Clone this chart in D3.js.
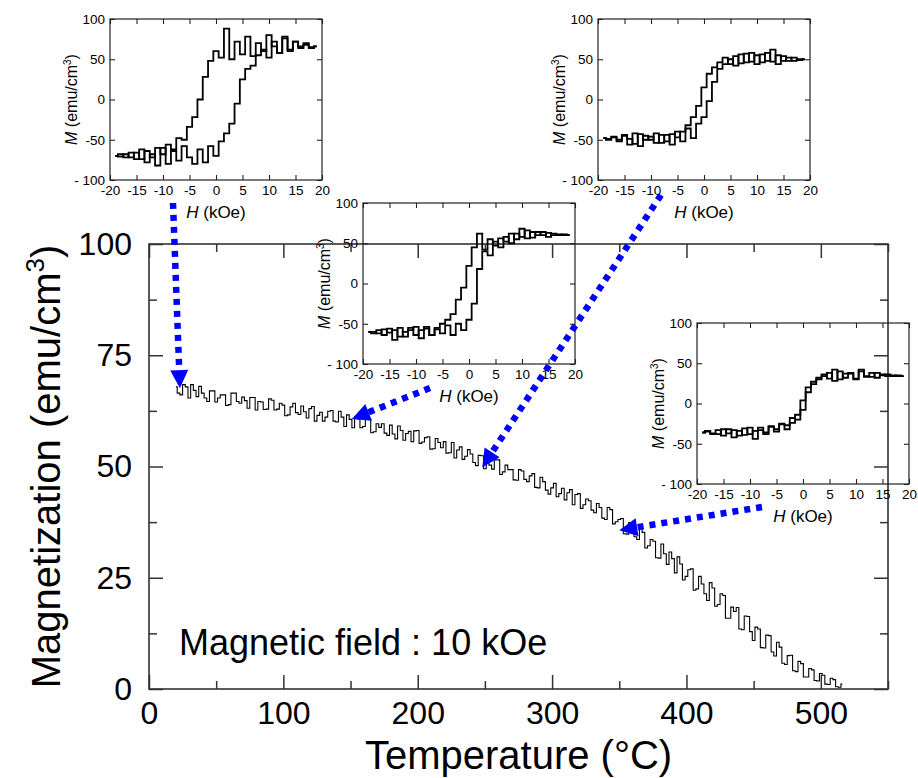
<!DOCTYPE html>
<html>
<head>
<meta charset="utf-8">
<script src="https://cdn.jsdelivr.net/npm/d3@7"></script>
<style>
body { margin: 0; background: #fff; }
text { font-family: "Liberation Sans", Arial, sans-serif; fill: #000; }
</style>
</head>
<body>
<script>
// ---- main curve: M(T) measured in 10 kOe ----
var temperature = [
  20,22,24,26,28,30,32,34,36,38,40,42,44,46,48,50,52,54,56,58,
  60,62,64,66,68,70,72,74,76,78,80,82,84,86,88,90,92,94,96,98,
  100,102,104,106,108,110,112,114,116,118,120,122,124,126,128,130,132,134,136,138,
  140,142,144,146,148,150,152,154,156,158,160,162,164,166,168,170,172,174,176,178,
  180,182,184,186,188,190,192,194,196,198,200,202,204,206,208,210,212,214,216,218,
  220,222,224,226,228,230,232,234,236,238,240,242,244,246,248,250,252,254,256,258,
  260,262,264,266,268,270,272,274,276,278,280,282,284,286,288,290,292,294,296,298,
  300,302,304,306,308,310,312,314,316,318,320,322,324,326,328,330,332,334,336,338,
  340,342,344,346,348,350,352,354,356,358,360,362,364,366,368,370,372,374,376,378,
  380,382,384,386,388,390,392,394,396,398,400,402,404,406,408,410,412,414,416,418,
  420,422,424,426,428,430,432,434,436,438,440,442,444,446,448,450,452,454,456,458,
  460,462,464,466,468,470,472,474,476,478,480,482,484,486,488,490,492,494,496,498,
  500,502,504,506,508,510,512,514,516
];
var magnetization = [
  67.9,66.5,66.1,68.4,67.9,65.4,68.4,67.1,65.7,68.0,
  66.5,65.4,64.6,67.0,67.0,64.5,65.4,66.1,66.1,63.7,
  63.9,66.5,66.5,64.6,64.2,65.6,64.8,63.1,65.5,65.5,
  62.7,64.6,64.5,62.8,62.9,65.2,64.9,62.7,62.9,64.2,
  63.8,61.4,61.6,63.4,64.2,62.1,61.7,63.6,62.3,60.9,
  63.0,63.5,60.2,61.5,62.2,60.2,61.1,62.4,62.6,60.2,
  60.0,62.4,61.1,59.0,61.6,60.6,58.7,61.2,60.7,58.7,
  59.0,60.8,60.7,57.6,57.8,59.6,58.8,59.6,57.5,57.0,
  59.3,57.3,56.2,59.1,58.1,55.9,57.4,57.9,55.6,58.0,
  58.1,55.2,55.5,56.5,56.7,53.9,54.0,56.3,55.4,54.2,
  55.6,53.0,53.1,55.4,51.9,53.7,54.4,51.6,52.3,53.8,
  52.8,50.9,50.2,52.5,52.4,49.5,51.2,50.3,49.4,51.5,
  51.5,48.2,48.8,50.3,49.3,49.3,47.0,46.9,49.3,49.0,
  47.1,46.6,47.9,48.4,45.3,45.2,47.6,46.6,44.7,43.8,
  45.2,46.2,43.2,43.9,45.1,42.5,44.1,44.8,41.4,43.7,
  43.9,40.6,41.4,42.7,42.3,40.2,39.6,41.7,40.8,38.4,
  38.1,40.8,40.3,37.1,37.6,38.1,38.3,34.9,34.8,37.4,
  36.3,34.2,33.6,36.1,35.2,31.7,32.2,33.6,33.2,29.5,
  29.4,32.6,30.4,28.0,30.8,29.3,26.1,29.7,28.1,24.5,
  25.3,26.8,27.0,22.2,22.5,25.3,23.6,21.4,19.9,23.9,
  22.7,18.6,19.0,21.4,21.0,15.9,15.9,18.4,17.4,18.3,
  13.5,13.3,16.4,16.3,12.9,10.9,13.9,13.5,9.3,9.2,
  12.1,12.0,8.3,7.4,10.5,9.4,5.8,5.5,7.5,7.6,
  4.1,3.9,6.2,5.7,2.7,2.7,4.6,4.3,1.9,1.8,
  3.5,3.1,1.1,1.0,2.4,2.1,0.5,0.4,1.1
];

var tempMajor = [0, 100, 200, 300, 400, 500];
var tempMinor = [50, 150, 250, 350, 450, 550];
var magMajor = [0, 25, 50, 75, 100];
var magMinor = [12.5, 37.5, 62.5, 87.5];

// ---- hysteresis loops M(H), both branches listed at the same H values ----
var field = [-19,-18,-17,-16,-15,-14,-13,-12,-11,-10,-9,-8,-7,-6,-5,-4,-3,-2,-1,
             0,1,2,3,4,5,6,7,8,9,10,11,12,13,14,15,16,17,18,19];
var fieldTicks = [-20,-15,-10,-5,0,5,10,15,20];
var loopMTicks = [-100,-50,0,50,100];

// 20 C
var loop20Up = [-70,-68,-72,-66,-74,-62,-78,-68,-82,-60,-80,-64,-76,-58,-72,-80,-62,-78,-58,
                -70,-52,-42,-30,-5,25,38,42,55,62,52,72,58,78,60,72,64,68,65,66];
var loop20Down = [-70,-71,-68,-72,-66,-74,-64,-72,-60,-68,-56,-62,-48,-50,-34,-22,0,28,48,
                  60,52,88,50,72,56,78,54,70,60,80,66,58,76,62,72,66,70,64,66];
// 150 C
var loop150Up = [-60,-62,-58,-64,-56,-70,-55,-66,-58,-54,-68,-56,-64,-57,-62,-52,-64,-50,-58,
                 -45,-25,18,40,35,52,45,58,50,62,58,66,57,64,60,63,60,61,60,60];
var loop150Down = [-60,-60,-62,-57,-61,-58,-66,-60,-55,-64,-58,-54,-64,-55,-50,-45,-38,-20,-5,
                   22,45,62,42,55,47,56,52,62,55,68,56,64,60,64,58,62,60,61,60];
// 250 C
var loop250Up = [-48,-50,-46,-52,-44,-56,-42,-58,-45,-50,-42,-54,-44,-56,-40,-52,-36,-48,-30,
                 -22,-2,22,38,44,50,42,56,46,58,44,56,48,62,44,54,48,52,49,50];
var loop250Down = [-48,-49,-47,-50,-45,-49,-55,-43,-50,-46,-54,-44,-52,-43,-47,-40,-32,-22,-8,
                   15,32,40,46,52,44,54,45,57,47,55,46,58,47,55,48,52,48,50,50];
// 350 C
var loop350Up = [-36,-34,-38,-33,-40,-32,-42,-34,-39,-30,-44,-33,-38,-29,-35,-26,-32,-24,-20,
                 -8,14,24,30,34,38,28,40,32,37,30,40,33,38,32,36,34,35,34,34];
var loop350Down = [-36,-35,-37,-38,-32,-37,-33,-40,-31,-38,-34,-30,-36,-28,-32,-25,-27,-18,-14,
                   4,20,27,32,36,31,42,30,37,38,31,42,34,33,38,35,36,34,35,34];

// where each arrow lands on the M(T) curve
var arrowTemps = [23, 248, 151, 350];
var arrowMags = [67.6, 49.8, 60.7, 35.7];

// ---------------------------------------------------------------
var W = 918, H = 778;
var svg = d3.select("body").append("svg")
    .attr("width", W)
    .attr("height", H);

var plot = {left: 149, top: 244, right: 888, bottom: 689};

var x = d3.scaleLinear().domain([0, 550]).range([plot.left, plot.right]);
var y = d3.scaleLinear().domain([0, 100]).range([plot.bottom, plot.top]);

var mainData = temperature.map(function(t, i) { return {t: t, m: magnetization[i]}; });

// main curve
svg.append("path")
    .datum(mainData)
    .attr("fill", "none")
    .attr("stroke", "#000")
    .attr("stroke-width", 1.1)
    .attr("d", d3.line()
        .curve(d3.curveStep)
        .x(function(d) { return x(d.t); })
        .y(function(d) { return y(d.m); }));

// styles an axis group the same way every time
function styleAxis(g, size, color) {
    g.select(".domain").remove();
    g.selectAll(".tick line").attr("stroke", color).attr("stroke-width", 1.5);
    g.selectAll("text")
        .attr("font-family", "Liberation Sans, Arial, sans-serif")
        .attr("font-size", size)
        .attr("fill", "#000");
    g.attr("font-family", null).attr("font-size", null);
}

var axisColor = "#333";

// bottom
svg.append("g")
    .attr("transform", "translate(0," + plot.bottom + ")")
    .call(d3.axisBottom(x).tickValues(tempMajor).tickSize(-14).tickPadding(12).tickFormat(d3.format("d")))
    .call(function(g) { styleAxis(g, 32, axisColor); });
svg.append("g")
    .attr("transform", "translate(0," + plot.bottom + ")")
    .call(d3.axisBottom(x).tickValues(tempMinor).tickSize(-8).tickFormat(""))
    .call(function(g) { styleAxis(g, 32, axisColor); });
// top
svg.append("g")
    .attr("transform", "translate(0," + plot.top + ")")
    .call(d3.axisTop(x).tickValues(tempMajor).tickSize(-14).tickFormat(""))
    .call(function(g) { styleAxis(g, 32, axisColor); });
svg.append("g")
    .attr("transform", "translate(0," + plot.top + ")")
    .call(d3.axisTop(x).tickValues(tempMinor).tickSize(-8).tickFormat(""))
    .call(function(g) { styleAxis(g, 32, axisColor); });
// left
svg.append("g")
    .attr("transform", "translate(" + plot.left + ",0)")
    .call(d3.axisLeft(y).tickValues(magMajor).tickSize(-14).tickPadding(17).tickFormat(d3.format("d")))
    .call(function(g) { styleAxis(g, 32, axisColor); });
svg.append("g")
    .attr("transform", "translate(" + plot.left + ",0)")
    .call(d3.axisLeft(y).tickValues(magMinor).tickSize(-8).tickFormat(""))
    .call(function(g) { styleAxis(g, 32, axisColor); });
// right
svg.append("g")
    .attr("transform", "translate(" + plot.right + ",0)")
    .call(d3.axisRight(y).tickValues(magMajor).tickSize(-14).tickFormat(""))
    .call(function(g) { styleAxis(g, 32, axisColor); });
svg.append("g")
    .attr("transform", "translate(" + plot.right + ",0)")
    .call(d3.axisRight(y).tickValues(magMinor).tickSize(-8).tickFormat(""))
    .call(function(g) { styleAxis(g, 32, axisColor); });

// frame (no fill, so the insets show it through them like the original)
svg.append("rect")
    .attr("x", plot.left).attr("y", plot.top)
    .attr("width", plot.right - plot.left)
    .attr("height", plot.bottom - plot.top)
    .attr("fill", "none")
    .attr("stroke", axisColor)
    .attr("stroke-width", 1.6);

// axis titles
var yTitle = svg.append("text")
    .attr("transform", "translate(60," + ((plot.top + plot.bottom) / 2) + ") rotate(-90)")
    .attr("text-anchor", "middle")
    .attr("font-size", 40);
yTitle.append("tspan").text("Magnetization (emu/cm");
yTitle.append("tspan").attr("font-size", 26).attr("dy", -16).text("3");
yTitle.append("tspan").attr("dy", 16).text(")");

svg.append("text")
    .attr("x", (plot.left + plot.right) / 2)
    .attr("y", 769)
    .attr("text-anchor", "middle")
    .attr("font-size", 40)
    .text("Temperature (\u00B0C)");

svg.append("text")
    .attr("x", 179)
    .attr("y", 655)
    .attr("font-size", 36)
    .text("Magnetic field : 10 kOe");

// ---- insets ----
var insetW = 212, insetH = 161;
var insets = [
    {left: 110, top: 19, up: loop20Up, down: loop20Down},
    {left: 598, top: 19, up: loop250Up, down: loop250Down},
    {left: 363, top: 203, up: loop150Up, down: loop150Down},
    {left: 697, top: 323, up: loop350Up, down: loop350Down}
];

function loopLabel(d) {
    if (d === -100) return "- 100";
    return d < 0 ? "-" + Math.abs(d) : String(d);
}

function drawInset(cfg) {
    var g = svg.append("g");
    var hx = d3.scaleLinear().domain([-20, 20]).range([cfg.left, cfg.left + insetW]);
    var hy = d3.scaleLinear().domain([-100, 100]).range([cfg.top + insetH, cfg.top]);

    var line = d3.line()
        .curve(d3.curveStep)
        .x(function(d, i) { return hx(field[i]); })
        .y(function(d) { return hy(d); });

    [cfg.up, cfg.down].forEach(function(branch) {
        g.append("path")
            .datum(branch)
            .attr("fill", "none")
            .attr("stroke", "#000")
            .attr("stroke-width", 1.8)
            .attr("d", line);
    });

    var c = "#222";
    g.append("g")
        .attr("transform", "translate(0," + (cfg.top + insetH) + ")")
        .call(d3.axisBottom(hx).tickValues(fieldTicks).tickSize(-5).tickPadding(5).tickFormat(loopLabel))
        .call(function(a) { styleAxis(a, 13.5, c); a.selectAll(".tick line").attr("stroke-width", 1.1); });
    g.append("g")
        .attr("transform", "translate(0," + cfg.top + ")")
        .call(d3.axisTop(hx).tickValues(fieldTicks).tickSize(-5).tickFormat(""))
        .call(function(a) { styleAxis(a, 13.5, c); a.selectAll(".tick line").attr("stroke-width", 1.1); });
    g.append("g")
        .attr("transform", "translate(" + cfg.left + ",0)")
        .call(d3.axisLeft(hy).tickValues(loopMTicks).tickSize(-5).tickPadding(5).tickFormat(loopLabel))
        .call(function(a) { styleAxis(a, 13.5, c); a.selectAll(".tick line").attr("stroke-width", 1.1); });
    g.append("g")
        .attr("transform", "translate(" + (cfg.left + insetW) + ",0)")
        .call(d3.axisRight(hy).tickValues(loopMTicks).tickSize(-5).tickFormat(""))
        .call(function(a) { styleAxis(a, 13.5, c); a.selectAll(".tick line").attr("stroke-width", 1.1); });

    g.append("rect")
        .attr("x", cfg.left).attr("y", cfg.top)
        .attr("width", insetW).attr("height", insetH)
        .attr("fill", "none")
        .attr("stroke", c)
        .attr("stroke-width", 1.2);

    // M (emu/cm3)
    var ml = g.append("text")
        .attr("transform", "translate(" + (cfg.left - 33) + "," + (cfg.top + insetH / 2) + ") rotate(-90)")
        .attr("text-anchor", "middle")
        .attr("font-size", 16);
    ml.append("tspan").attr("font-style", "italic").text("M");
    ml.append("tspan").text(" (emu/cm");
    ml.append("tspan").attr("font-size", 10).attr("dy", -6).text("3");
    ml.append("tspan").attr("dy", 6).text(")");

    // H (kOe)
    var hl = g.append("text")
        .attr("x", cfg.left + insetW / 2)
        .attr("y", cfg.top + insetH + 38)
        .attr("text-anchor", "middle")
        .attr("font-size", 17);
    hl.append("tspan").attr("font-style", "italic").text("H");
    hl.append("tspan").text(" (kOe)");
}

insets.forEach(drawInset);

// ---- arrows from each inset to its temperature on the curve ----
var arrowStarts = [[173, 203], [661, 195], [430, 388], [762, 507]];
var blue = "#0000ff";

arrowStarts.forEach(function(s, i) {
    var tx = x(arrowTemps[i]), ty = y(arrowMags[i]);
    var dx = tx - s[0], dy = ty - s[1];
    var len = Math.sqrt(dx * dx + dy * dy);
    var ux = dx / len, uy = dy / len;
    var headL = 18, headW = 9;
    var bx = tx - ux * headL, by = ty - uy * headL;

    svg.append("line")
        .attr("x1", s[0]).attr("y1", s[1])
        .attr("x2", bx).attr("y2", by)
        .attr("stroke", blue)
        .attr("stroke-width", 6.5)
        .attr("stroke-dasharray", "6,6");

    svg.append("path")
        .attr("fill", blue)
        .attr("d", "M" + tx + "," + ty +
            "L" + (bx - uy * headW) + "," + (by + ux * headW) +
            "L" + (bx + uy * headW) + "," + (by - ux * headW) + "Z");
});
</script>
</body>
</html>
